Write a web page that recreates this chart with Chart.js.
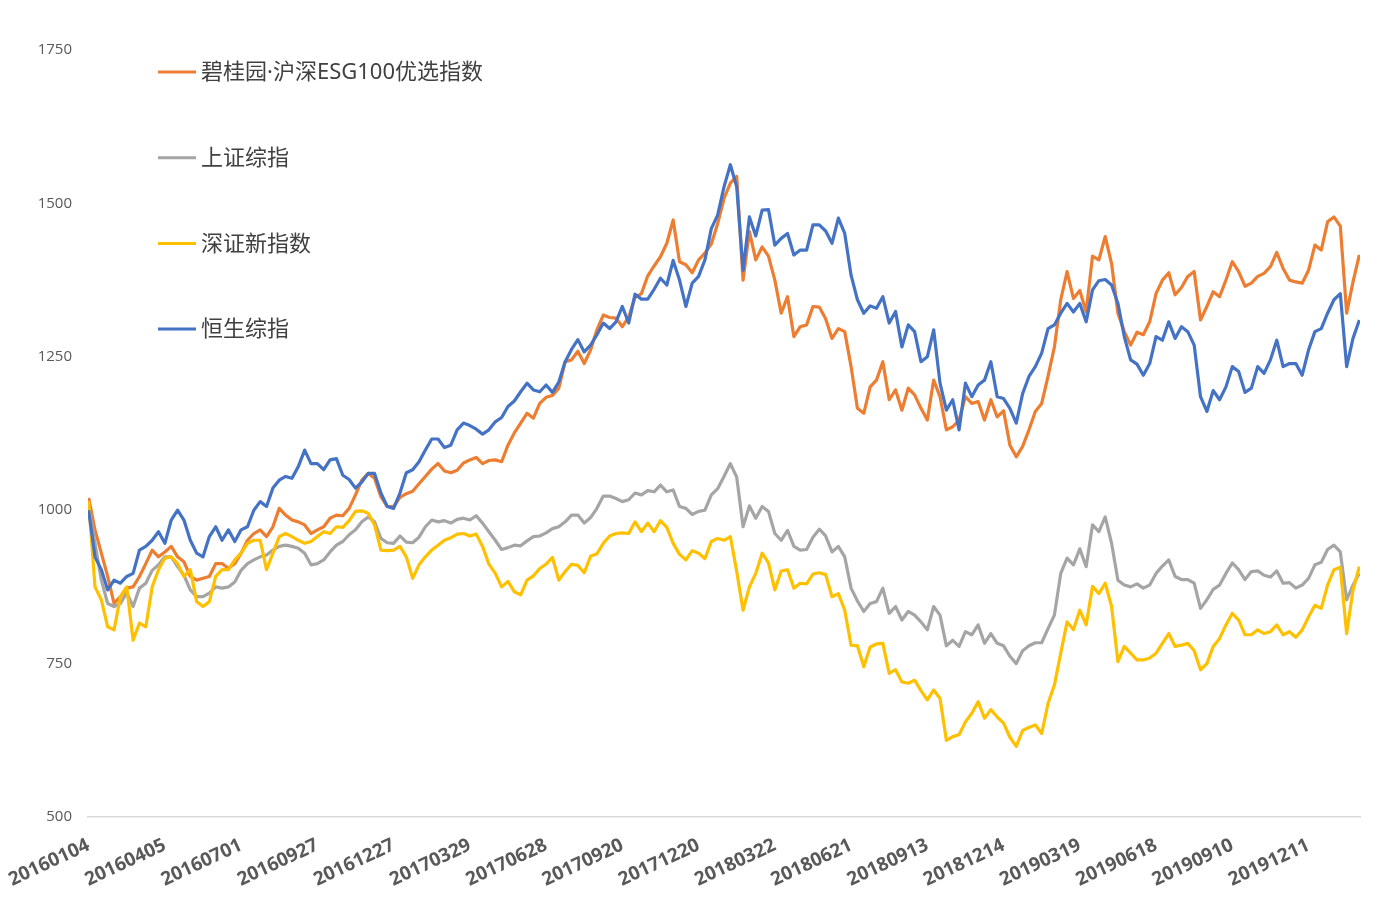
<!DOCTYPE html>
<html>
<head>
<meta charset="utf-8">
<script src="https://cdn.jsdelivr.net/npm/chart.js@4.4.1/dist/chart.umd.min.js"></script>
<style>
  html, body { margin: 0; padding: 0; background: #ffffff; }
  #wrap { width: 1389px; height: 904px; }
</style>
</head>
<body>
<div id="wrap"><canvas id="c" width="1389" height="904"></canvas></div>
<script>
// ---- data (one sample every 5 trading days, starting 20160104) ----
const SAMPLE_STEP = 5;      // trading days between samples
const TICK_INTERVAL = 60;   // trading days between axis labels
const LAST_DAY = 1000;

const tickLabels = ["20160104","20160405","20160701","20160927","20161227","20170329","20170628",
  "20170920","20171220","20180322","20180621","20180913","20181214","20190319","20190618",
  "20190910","20191211"];

const seriesNames = ["碧桂园·沪深ESG100优选指数", "上证综指", "深证新指数", "恒生综指"];

const esg100 = [1020,968,930,892,848,859,873,875,892,913,935,924,932,941,924,916,892,886,889,892,
  913,913,905,913,930,951,962,968,957,973,1003,992,984,981,976,962,968,973,987,992,
  991,1003,1025,1049,1060,1052,1022,1006,1006,1021,1027,1031,1043,1055,1067,1076,1064,1061,1065,1077,
  1082,1086,1076,1081,1082,1079,1106,1126,1142,1158,1150,1174,1184,1187,1199,1242,1245,1259,1239,1261,
  1294,1318,1314,1313,1299,1315,1347,1353,1382,1398,1413,1435,1473,1405,1400,1387,1408,1419,1434,1467,
  1508,1533,1544,1375,1454,1408,1429,1414,1375,1321,1348,1283,1299,1302,1332,1331,1312,1280,1296,1291,
  1234,1166,1158,1201,1212,1242,1180,1196,1163,1199,1188,1166,1147,1212,1185,1131,1136,1147,1185,1174,
  1177,1147,1180,1152,1162,1106,1087,1104,1131,1161,1174,1218,1266,1343,1389,1345,1358,1323,1414,1408,
  1446,1402,1321,1291,1269,1290,1286,1307,1353,1375,1387,1351,1363,1381,1389,1310,1332,1356,1348,1375,
  1405,1389,1365,1370,1381,1386,1397,1420,1394,1375,1372,1370,1391,1432,1424,1470,1478,1463,1321,1372,
  1416];

const shComposite = [1005,946,886,848,843,848,865,843,873,881,902,911,924,924,908,894,870,859,859,865,
  875,873,875,883,902,913,919,924,927,935,941,943,941,938,930,911,913,919,932,943,
  949,960,968,981,989,981,954,947,946,958,948,947,956,973,984,981,983,979,985,987,
  984,991,979,965,951,936,939,943,942,950,957,958,963,970,973,981,992,992,979,988,
  1003,1023,1023,1019,1014,1017,1028,1025,1032,1030,1041,1030,1033,1006,1003,993,998,1000,1025,1035,
  1055,1076,1054,973,1007,987,1006,998,962,951,967,941,935,936,956,969,958,932,941,924,
  873,852,835,848,851,873,832,843,821,835,829,818,805,843,829,779,788,778,802,797,
  813,783,799,783,779,762,750,771,779,784,784,807,829,897,922,911,937,908,976,965,
  989,946,886,878,875,880,873,878,897,909,919,892,887,887,881,840,854,871,878,897,
  914,903,887,900,901,894,891,901,881,882,873,878,889,911,915,936,943,932,854,878,
  897];

const szNew = [1015,875,854,810,805,859,875,788,816,810,875,903,922,924,913,892,903,851,843,851,
  892,903,903,919,930,946,951,951,903,930,957,962,957,951,946,949,957,965,962,973,
  972,983,998,999,995,976,935,934,935,941,924,889,911,924,935,943,951,955,961,962,
  958,961,941,912,897,875,884,867,862,886,893,905,912,923,886,900,912,910,898,925,
  929,946,958,962,963,962,981,965,979,965,983,972,946,928,919,934,930,921,949,954,
  951,957,900,837,875,897,930,914,870,901,903,873,881,880,896,898,895,859,864,837,
  780,779,745,777,782,783,734,740,720,718,723,706,691,707,693,625,631,634,655,669,
  688,661,675,663,653,630,615,641,646,650,636,685,715,767,818,805,837,813,876,864,
  881,843,753,778,767,756,756,759,767,783,799,778,780,783,771,740,750,778,791,813,
  832,821,797,797,805,799,802,813,797,802,793,805,826,845,840,878,903,907,799,870,
  908];

const hsComposite = [1000,924,903,870,886,881,892,897,935,941,951,965,946,984,1000,984,951,930,924,957,
  973,951,968,949,968,973,1000,1014,1006,1036,1049,1055,1052,1071,1098,1076,1076,1066,1082,1084,
  1057,1050,1036,1046,1060,1060,1028,1006,1003,1028,1061,1066,1079,1098,1116,1116,1102,1106,1131,1142,
  1138,1132,1124,1131,1144,1151,1169,1178,1193,1207,1196,1193,1204,1192,1209,1242,1262,1278,1258,1269,
  1286,1305,1296,1307,1332,1305,1352,1344,1344,1360,1378,1367,1407,1375,1332,1370,1381,1408,1459,1481,
  1527,1563,1527,1391,1478,1447,1489,1490,1432,1443,1451,1416,1424,1424,1465,1465,1455,1435,1476,1451,
  1383,1343,1321,1333,1329,1348,1305,1324,1266,1302,1291,1242,1250,1294,1207,1163,1180,1131,1207,1185,
  1204,1212,1242,1185,1182,1166,1142,1190,1218,1234,1256,1296,1302,1321,1337,1323,1337,1307,1359,1374,
  1376,1367,1337,1283,1245,1238,1220,1239,1283,1277,1307,1280,1299,1291,1269,1185,1161,1195,1180,1201,
  1234,1226,1192,1199,1234,1223,1245,1277,1234,1239,1239,1220,1261,1291,1296,1321,1343,1353,1234,1280,
  1310];

const seriesValues = [esg100, shComposite, szNew, hsComposite];
const seriesColors = ["#ED7D31", "#A5A5A5", "#FFC000", "#4472C4"];
const yTicks = [500, 750, 1000, 1250, 1500, 1750];

// ---- chart ----
const toPoints = vals => vals.map((v, k) => ({ x: k * SAMPLE_STEP, y: v }));

const legendPlugin = {
  id: 'insideLegend',
  afterDraw(chart) {
    const ctx = chart.ctx;
    const area = chart.chartArea;
    const x0 = area.left + 70, lineLen = 38, y0 = area.top + 22, gap = 85.7;
    ctx.save();
    ctx.font = '22px "Noto Sans", "Noto Sans CJK SC", sans-serif';
    ctx.textBaseline = 'middle';
    ctx.textAlign = 'left';
    chart.data.datasets.forEach((ds, i) => {
      const y = y0 + i * gap;
      ctx.strokeStyle = ds.borderColor;
      ctx.lineWidth = 3;
      ctx.beginPath();
      ctx.moveTo(x0, y);
      ctx.lineTo(x0 + lineLen, y);
      ctx.stroke();
      ctx.fillStyle = '#404040';
      ctx.fillText(ds.label, x0 + lineLen + 5, y + 1);
    });
    ctx.restore();
  }
};

new Chart(document.getElementById('c'), {
  type: 'line',
  data: {
    datasets: seriesNames.map((name, i) => ({
      label: name,
      data: toPoints(seriesValues[i]),
      borderColor: seriesColors[i],
      backgroundColor: seriesColors[i],
      borderWidth: 3.2,
      pointRadius: 0,
      tension: 0,
      borderJoinStyle: 'round',
      fill: false,
      order: seriesNames.length - i
    }))
  },
  options: {
    responsive: false,
    animation: false,
    events: [],
    layout: { padding: { top: 50, right: 29, bottom: 0, left: 0 } },
    plugins: { legend: { display: false }, tooltip: { enabled: false } },
    scales: {
      x: {
        type: 'linear',
        min: -0.5,
        max: LAST_DAY + 0.5,
        grid: { display: false, drawTicks: false },
        border: { display: true, color: '#D9D9D9', width: 1.5 },
        afterBuildTicks: s => { s.ticks = tickLabels.map((_, i) => ({ value: i * TICK_INTERVAL })); },
        afterFit: s => { s.height = 87; s.paddingLeft = 0; s.paddingRight = 0; },
        ticks: {
          autoSkip: false,
          minRotation: 25,
          maxRotation: 25,
          padding: 17,
          color: '#595959',
          font: { family: '"Open Sans", "Liberation Sans", sans-serif', size: 19, weight: 'bold' },
          callback: (value, index) => tickLabels[index]
        }
      },
      y: {
        min: yTicks[0],
        max: yTicks[yTicks.length - 1],
        grid: { display: false, drawTicks: false },
        border: { display: false },
        afterBuildTicks: s => { s.ticks = yTicks.map(v => ({ value: v })); },
        afterFit: s => { s.width = 88; },
        ticks: {
          padding: 16,
          color: '#595959',
          font: { family: '"Open Sans", "Liberation Sans", sans-serif', size: 15 },
          callback: value => String(value)
        }
      }
    }
  },
  plugins: [legendPlugin]
});
</script>
</body>
</html>
